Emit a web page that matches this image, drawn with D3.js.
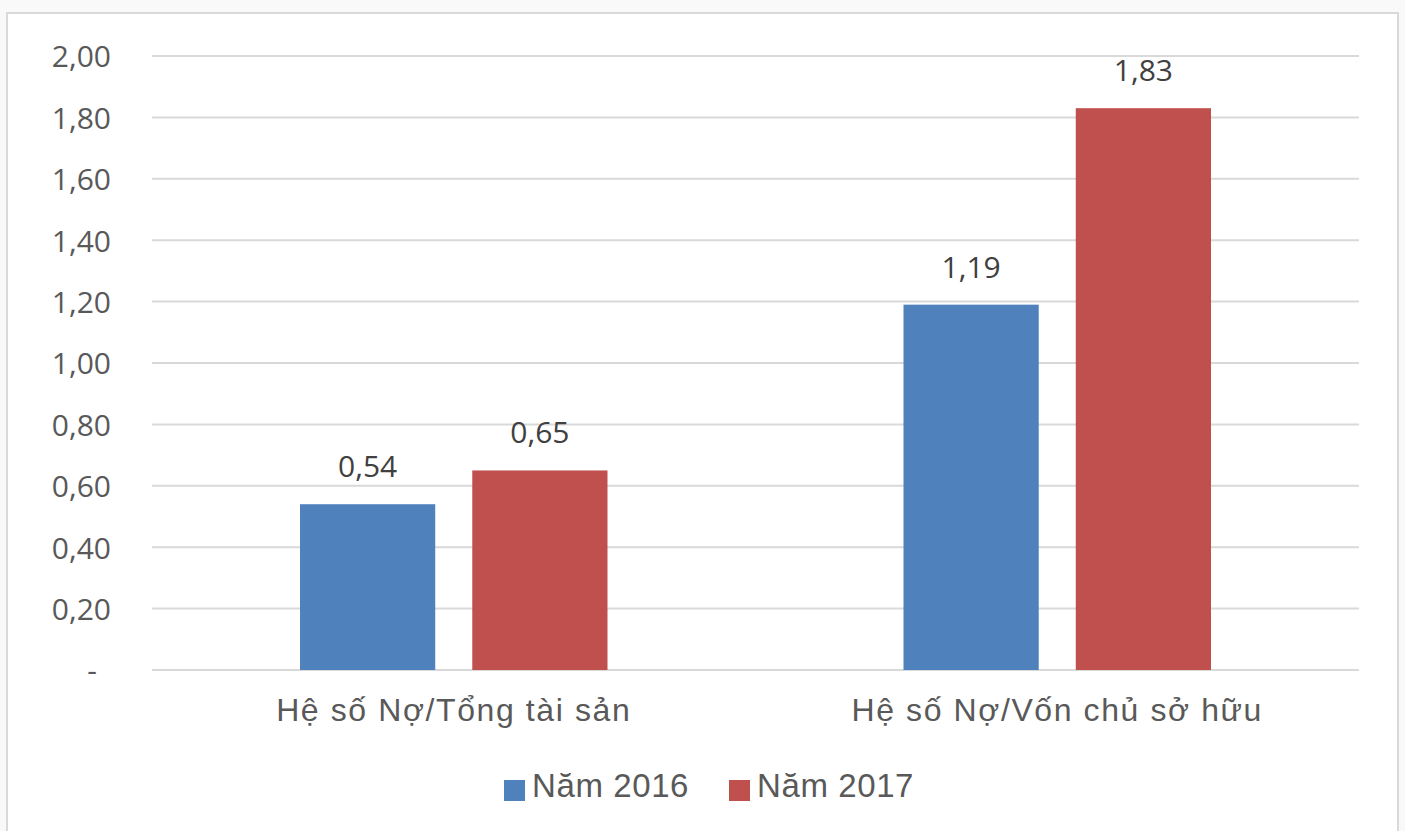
<!DOCTYPE html>
<html><head><meta charset="utf-8">
<script src="https://cdn.jsdelivr.net/npm/d3@7"></script>
<style>
html,body{margin:0;padding:0;background:#f9f9f9;}
svg{display:block;}
</style></head>
<body>
<svg id="chart" width="1405" height="831"></svg>
<script>
const categories = ["Hệ số Nợ/Tổng tài sản", "Hệ số Nợ/Vốn chủ sở hữu"];
const seriesNames = ["Năm 2016", "Năm 2017"];
const values2016 = [0.54, 1.19];
const values2017 = [0.65, 1.83];
const yTicks = [0, 0.2, 0.4, 0.6, 0.8, 1.0, 1.2, 1.4, 1.6, 1.8, 2.0];
const colors = ["#4f81bd", "#c0504d"];

(function(){
const svg = d3.select("#chart");
svg.append("rect").attr("x",7).attr("y",13).attr("width",1391).attr("height",830)
  .attr("fill","#fff").attr("stroke","#d9d9d9").attr("stroke-width",2);

const pLeft = 152, pRight = 1359, pTop = 56, pBottom = 670;
const y = d3.scaleLinear().domain([0, 2]).range([pBottom, pTop]);
const x0 = d3.scaleBand().domain(categories).range([pLeft, pRight]).paddingInner(0).paddingOuter(0);
const x1 = d3.scaleBand().domain(seriesNames).range([148, x0.bandwidth() - 148]).paddingInner(0.215);

const fmt = v => v === 0 ? "-" : d3.format(".2f")(v).replace(".", ",");

svg.append("g").selectAll("line").data(yTicks).join("line")
  .attr("x1", pLeft).attr("x2", pRight)
  .attr("y1", d => y(d)).attr("y2", d => y(d))
  .attr("stroke", "#d9d9d9").attr("stroke-width", 2);

const yAxis = d3.axisLeft(y).tickValues(yTicks).tickFormat(fmt).tickSize(0).tickPadding(0);
const ya = svg.append("g").attr("transform", `translate(111,0)`).call(yAxis);
ya.select(".domain").remove();
ya.selectAll("text").attr("font-family", "'Open Sans', sans-serif").attr("font-size", 30)
  .attr("fill", "#595959").attr("dy", "0.36em");
ya.selectAll(".tick").filter(d => d === 0).select("text").attr("transform", "translate(-14,0)");

const data = categories.map((c, i) => ({cat: c, vals: [values2016[i], values2017[i]]}));
const groups = svg.append("g").selectAll("g").data(data).join("g")
  .attr("transform", d => `translate(${x0(d.cat)},0)`);
groups.selectAll("rect").data(d => d.vals.map((v, j) => ({name: seriesNames[j], v, j}))).join("rect")
  .attr("x", d => x1(d.name)).attr("width", x1.bandwidth())
  .attr("y", d => y(d.v)).attr("height", d => y(0) - y(d.v))
  .attr("fill", d => colors[d.j]);
groups.selectAll("text.lbl").data(d => d.vals.map((v, j) => ({name: seriesNames[j], v, j}))).join("text")
  .attr("class","lbl")
  .attr("x", d => x1(d.name) + x1.bandwidth()/2).attr("y", d => y(d.v) - 27)
  .attr("text-anchor", "middle").attr("font-family", "'Open Sans', sans-serif").attr("font-size", 30)
  .attr("fill", "#404040").text(d => fmt(d.v));

const xAxis = d3.axisBottom(x0).tickSize(0).tickPadding(0);
const xa = svg.append("g").attr("transform", `translate(0,${pBottom})`).call(xAxis);
xa.select(".domain").remove();
xa.selectAll("text").attr("font-family", "'Liberation Sans', Arial, sans-serif").attr("font-size", 32)
  .attr("letter-spacing", 1.6)
  .attr("fill", "#595959").attr("dy", 0).attr("y", 51);

const legendX = [504, 729];
const lg = svg.append("g").selectAll("g").data(seriesNames).join("g")
  .attr("transform", (d, i) => `translate(${legendX[i]},780)`);
lg.append("rect").attr("width", 21).attr("height", 21).attr("fill", (d, i) => colors[i]);
lg.append("text").attr("x", 28).attr("y", 17).attr("font-family", "'Liberation Sans', Arial, sans-serif")
  .attr("font-size", 33).attr("letter-spacing", 0.6).attr("fill", "#595959").text(d => d);
})();
</script>
</body></html>
